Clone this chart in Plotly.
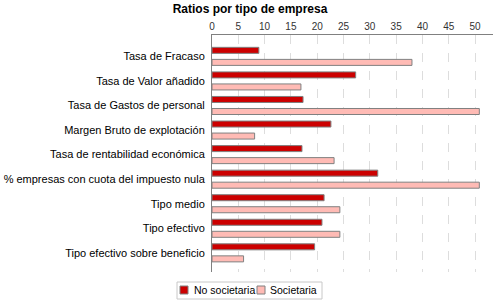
import plotly.graph_objects as go

categories = [
    "Tasa de Fracaso",
    "Tasa de Valor añadido",
    "Tasa de Gastos de personal",
    "Margen Bruto de explotación",
    "Tasa de rentabilidad económica",
    "% empresas con cuota del impuesto nula",
    "Tipo medio",
    "Tipo efectivo",
    "Tipo efectivo sobre beneficio",
]
no_societaria = [8.9, 27.3, 17.3, 22.6, 17.1, 31.5, 21.3, 20.9, 19.5]
societaria = [38.0, 16.9, 50.8, 8.1, 23.2, 50.8, 24.3, 24.3, 6.0]
series_names = ["No societaria", "Societaria"]
series_colors = ["#cc0000", "#ffbbb5"]

W, H = 500, 300
L, R, T, B = 212, 7, 35, 28
font_family = "Liberation Sans, Arial, sans-serif"
outline = dict(color="#808080", width=1)


def px(x, y):
    """Pixel position on the page -> paper coordinates (for the hand-drawn legend)."""
    return (x - L) / (W - L - R), (H - B - y) / (H - T - B)


fig = go.Figure()
for name, vals, col in zip(series_names, [no_societaria, societaria], series_colors):
    fig.add_trace(go.Bar(
        name=name, y=categories, x=vals, orientation="h",
        marker=dict(color=col, line=outline),
    ))

# compact legend box like the original (plotly's own legend is much taller)
shapes = []
annotations = []
x0, y0 = px(177, 282)
x1, y1 = px(322, 299)
shapes.append(dict(type="rect", xref="paper", yref="paper", x0=x0, y0=y0, x1=x1, y1=y1,
                   line=dict(color="#c8c8c8", width=1), fillcolor="white"))
for (sx, tx), name, col in zip([(180, 192), (257, 268)], series_names, series_colors):
    a0, b0 = px(sx, 286)
    a1, b1 = px(sx + 8, 294)
    shapes.append(dict(type="rect", xref="paper", yref="paper", x0=a0, y0=b0, x1=a1, y1=b1,
                       line=outline, fillcolor=col))
    ax, ay = px(tx, 290)
    annotations.append(dict(text=name, xref="paper", yref="paper", x=ax, y=ay,
                            xanchor="left", yanchor="middle", showarrow=False,
                            font=dict(size=10.5, family=font_family, color="#000000")))

fig.update_layout(
    width=W, height=H,
    margin=dict(l=L, r=R, t=T, b=B, autoexpand=False),
    plot_bgcolor="white", paper_bgcolor="white",
    barmode="group", bargap=0.02, bargroupgap=0.5,
    font=dict(family=font_family, size=10, color="#000000"),
    title=dict(text="<b>Ratios por tipo de empresa</b>", x=0.5, xref="container",
               xanchor="center", y=0.985, yref="container", yanchor="top",
               pad=dict(t=0, b=0, l=0, r=0),
               font=dict(size=12, family=font_family)),
    showlegend=False,
    shapes=shapes,
    annotations=annotations,
)
fig.update_xaxes(
    side="top", range=[0, 53.4], dtick=5, tick0=0, automargin=False,
    showline=True, linecolor="#808080", linewidth=1,
    showgrid=True, gridcolor="#dddddd", griddash="dash", gridwidth=1,
    zeroline=False, ticks="", tickfont=dict(size=10, color="#333333"),
)
fig.update_yaxes(
    range=[8.78, -0.87], automargin=False,
    showline=True, linecolor="#808080", linewidth=1,
    showgrid=False, ticks="", ticklabelstandoff=4,
    tickfont=dict(size=11),
)

# the default page has an 8px body margin; drop it so the figure sits at 0,0
fig.write_html("out.html", config={"displayModeBar": False},
               post_script="document.body.style.margin='0';")
